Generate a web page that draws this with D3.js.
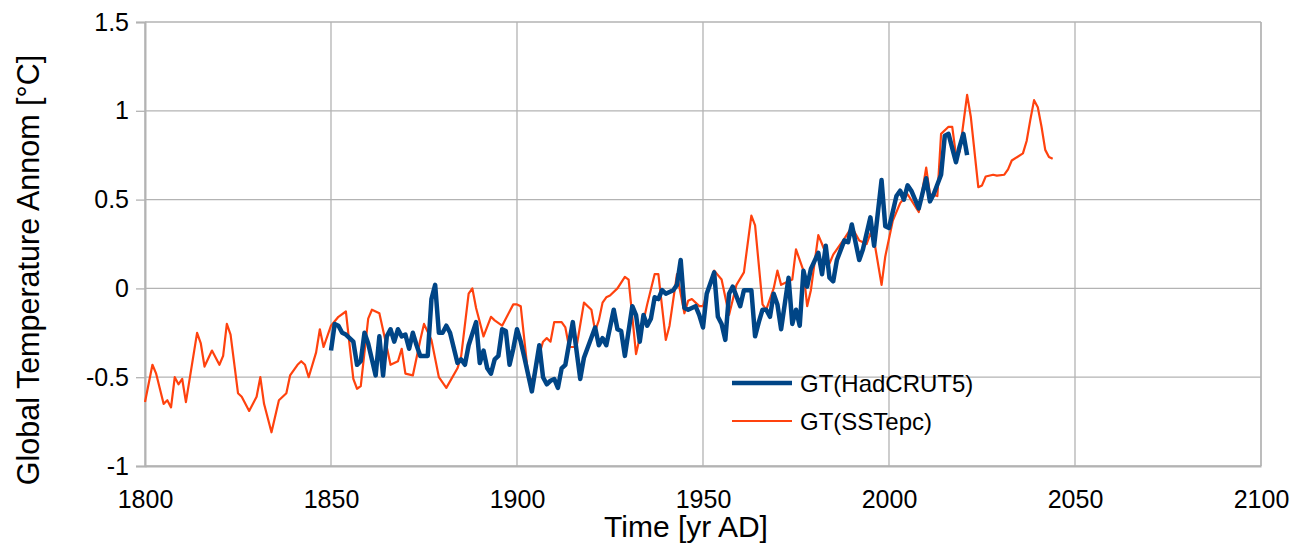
<!DOCTYPE html>
<html>
<head>
<meta charset="utf-8">
<script src="https://cdn.jsdelivr.net/npm/d3@7"></script>
<style>
  html, body { margin: 0; padding: 0; background: #fff; }
  svg { display: block; font-family: "Liberation Sans", Arial, sans-serif; }
</style>
</head>
<body>
<svg id="chart" width="1293" height="546"></svg>
<script>
// Global temperature anomaly series (°C), annual points by year.
const sstYears = [1800,1802,1803,1805,1806,1807,1808,1809,1810,1811,1814,1815,1816,1818,1820,1821,1822,1823,1825,1826,
  1828,1830,1831,1832,1834,1836,1838,1839,1841,1842,1843,1844,1846,1847,1848,1850,1852,1854,1856,1857,
  1858,1860,1861,1863,1865,1866,1868,1869,1870,1872,1874,1875,1877,1879,1881,1884,1885,1887,1888,1889,1891,
  1893,1894,1896,1898,1899,1900,1901,1903,1904,1905,1906,1907,1908,1909,1910,1912,1913,1914,1916,1918,1920,
  1921,1922,1923,1924,1925,1927,1929,1930,1932,1935,1937,1938,1940,1941,1943,1945,1946,1947,1949,1950,1953,
  1955,1957,1959,1961,1963,1964,1966,1967,1969,1970,1971,1974,1975,1977,1978,1979,1981,1982,1984,1985,
  1988,1990,1992,1994,1995,1996,1998,1999,2001,2003,2005,2008,2010,2011,2013,2014,2016,2017,2018,2019,
  2021,2022,2024,2025,2026,2028,2029,2031,2032,2033,2036,2037,2038,2039,2040,2041,2042,2043,2044];
const sstValues = [-0.64,-0.43,-0.48,-0.65,-0.63,-0.67,-0.50,-0.54,-0.51,-0.64,-0.25,-0.31,-0.44,-0.35,-0.43,-0.38,-0.20,-0.26,-0.59,-0.61,
  -0.69,-0.61,-0.50,-0.65,-0.81,-0.63,-0.59,-0.49,-0.43,-0.41,-0.43,-0.50,-0.36,-0.23,-0.33,-0.21,-0.16,-0.13,-0.51,-0.565,
  -0.55,-0.17,-0.12,-0.14,-0.33,-0.43,-0.41,-0.34,-0.48,-0.49,-0.29,-0.20,-0.29,-0.50,-0.56,-0.45,-0.38,-0.03,0.00,-0.11,-0.27,
  -0.16,-0.18,-0.21,-0.13,-0.09,-0.09,-0.10,-0.49,-0.52,-0.46,-0.37,-0.30,-0.28,-0.30,-0.19,-0.19,-0.22,-0.33,-0.33,-0.08,-0.12,
  -0.24,-0.18,-0.08,-0.05,-0.04,0.00,0.065,0.05,-0.37,-0.09,0.08,0.08,-0.29,-0.21,0.08,-0.14,-0.07,-0.06,-0.10,-0.10,0.10,
  0.05,-0.15,0.02,0.09,0.41,0.355,-0.09,-0.12,0.00,0.10,0.02,0.05,0.22,0.10,-0.10,-0.01,0.30,0.25,0.14,0.19,
  0.28,0.345,0.27,0.25,0.31,0.27,0.02,0.18,0.38,0.48,0.53,0.43,0.68,0.53,0.52,0.87,0.91,0.91,0.75,0.77,
  1.09,0.965,0.57,0.58,0.63,0.64,0.635,0.64,0.67,0.72,0.76,0.83,0.95,1.06,1.02,0.91,0.78,0.74,0.73];

const hadYears = [1850,1851,1852,1853,1854,1856,1857,1858,1859,1860,1862,1863,1864,1865,1866,1867,1868,1869,1870,1871,
  1872,1873,1874,1876,1877,1878,1879,1880,1881,1882,1884,1885,1886,1887,1889,1890,1891,1892,1893,1894,
  1895,1896,1897,1898,1899,1900,1901,1902,1904,1906,1907,1908,1909,1910,1911,1912,1913,1915,1917,1918,
  1921,1922,1923,1924,1926,1927,1928,1929,1931,1932,1933,1934,1935,1936,1937,1938,1939,1940,1942,1943,
  1944,1945,1946,1948,1949,1950,1951,1953,1954,1955,1956,1957,1958,1960,1961,1962,1963,1964,1965,1966,
  1967,1968,1969,1970,1971,1973,1974,1975,1976,1977,1978,1979,1981,1982,1983,1984,1985,1986,1988,1989,1990,1992,
  1993,1995,1996,1998,1999,2000,2002,2003,2004,2005,2006,2008,2010,2011,2012,2014,2015,2016,2017,2018,
  2019,2020,2021];
const hadValues = [-0.35,-0.20,-0.21,-0.25,-0.26,-0.30,-0.43,-0.41,-0.25,-0.31,-0.49,-0.27,-0.49,-0.27,-0.23,-0.30,-0.23,-0.27,-0.26,-0.34,
  -0.25,-0.32,-0.38,-0.38,-0.06,0.02,-0.25,-0.25,-0.21,-0.25,-0.42,-0.40,-0.43,-0.32,-0.19,-0.42,-0.35,-0.45,-0.48,-0.40,
  -0.38,-0.23,-0.24,-0.43,-0.34,-0.23,-0.30,-0.39,-0.58,-0.32,-0.50,-0.54,-0.52,-0.51,-0.56,-0.45,-0.43,-0.19,-0.51,-0.39,
  -0.22,-0.32,-0.28,-0.32,-0.12,-0.23,-0.24,-0.38,-0.10,-0.15,-0.30,-0.15,-0.21,-0.17,-0.05,-0.06,-0.01,-0.03,-0.01,0.02,
  0.16,-0.11,-0.12,-0.10,-0.15,-0.22,-0.03,0.09,-0.16,-0.20,-0.29,-0.03,0.01,-0.10,-0.01,-0.01,-0.01,-0.27,-0.19,-0.12,
  -0.12,-0.16,-0.03,-0.09,-0.23,0.06,-0.20,-0.12,-0.21,0.10,0.01,0.11,0.20,0.08,0.24,0.06,0.04,0.16,0.27,0.26,0.36,0.16,
  0.22,0.40,0.24,0.61,0.35,0.34,0.52,0.55,0.50,0.58,0.55,0.45,0.62,0.49,0.53,0.64,0.86,0.87,0.79,0.71,
  0.80,0.87,0.75];

const xTicks = [1800,1850,1900,1950,2000,2050,2100];
const yTicks = [-1,-0.5,0,0.5,1,1.5];
const seriesNames = ["GT(HadCRUT5)","GT(SSTepc)"];

const svg = d3.select("#chart");
const plot = { left: 145, right: 1261, top: 22, bottom: 466 };

const x = d3.scaleLinear().domain([1800, 2100]).range([plot.left, plot.right]);
const y = d3.scaleLinear().domain([-1, 1.5]).range([plot.bottom, plot.top]);

const gridColor = "#b3b3b3";

// Grid lines
svg.append("g").selectAll("line").data(yTicks).join("line")
  .attr("x1", plot.left).attr("x2", plot.right)
  .attr("y1", d => y(d)).attr("y2", d => y(d))
  .attr("stroke", gridColor).attr("stroke-width", 1.3);
svg.append("g").selectAll("line").data(xTicks).join("line")
  .attr("x1", d => x(d)).attr("x2", d => x(d))
  .attr("y1", plot.top).attr("y2", plot.bottom)
  .attr("stroke", gridColor).attr("stroke-width", 1.3);

// Y axis
const yAxis = svg.append("g")
  .attr("transform", `translate(${plot.left},0)`)
  .call(d3.axisLeft(y).tickValues(yTicks).tickSize(9).tickPadding(7)
    .tickFormat(d => String(d)));
yAxis.select(".domain").attr("stroke", gridColor).attr("stroke-width", 2);
yAxis.selectAll(".tick line").attr("stroke", gridColor).attr("stroke-width", 1.3);
yAxis.selectAll(".tick text").attr("fill", "#000").attr("font-size", 25)
  .attr("font-family", "Liberation Sans, Arial, sans-serif");

// X axis
const xAxis = svg.append("g")
  .attr("transform", `translate(0,${plot.bottom})`)
  .call(d3.axisBottom(x).tickValues(xTicks).tickSize(0).tickPadding(24)
    .tickFormat(d3.format("d")));
xAxis.select(".domain").attr("stroke", gridColor).attr("stroke-width", 2);
xAxis.selectAll(".tick text").attr("fill", "#000").attr("font-size", 25)
  .attr("font-family", "Liberation Sans, Arial, sans-serif");

// Right frame edge
svg.append("line").attr("x1", plot.right).attr("x2", plot.right)
  .attr("y1", plot.top).attr("y2", plot.bottom).attr("stroke", gridColor).attr("stroke-width", 1.3);

// Series lines
const sstData = sstYears.map((yr, i) => [yr, sstValues[i]]);
const hadData = hadYears.map((yr, i) => [yr, hadValues[i]]);
const line = d3.line().x(d => x(d[0])).y(d => y(d[1]));

svg.append("path").datum(sstData).attr("d", line)
  .attr("fill", "none").attr("stroke", "#ff420e").attr("stroke-width", 2.2)
  .attr("stroke-linejoin", "round");
svg.append("path").datum(hadData).attr("d", line)
  .attr("fill", "none").attr("stroke", "#004586").attr("stroke-width", 4.5)
  .attr("stroke-linejoin", "round");

// Axis titles
svg.append("text").attr("x", 686).attr("y", 537).attr("text-anchor", "middle")
  .attr("font-size", 30).text("Time [yr AD]");
svg.append("text").attr("transform", "translate(39,270) rotate(-90)")
  .attr("text-anchor", "middle").attr("font-size", 30.5)
  .text("Global Temperature Annom [°C]");

// Legend
const legend = svg.append("g").attr("transform", "translate(732,383)");
const legendColors = ["#004586", "#ff420e"];
const legendWidths = [4.5, 2.2];
seriesNames.forEach((name, i) => {
  const g = legend.append("g").attr("transform", `translate(0,${i * 38})`);
  g.append("line").attr("x1", 0).attr("x2", 60).attr("y1", 0).attr("y2", 0)
    .attr("stroke", legendColors[i]).attr("stroke-width", legendWidths[i]);
  g.append("text").attr("x", 68).attr("y", 9).attr("font-size", 24).text(name);
});
</script>
</body>
</html>
